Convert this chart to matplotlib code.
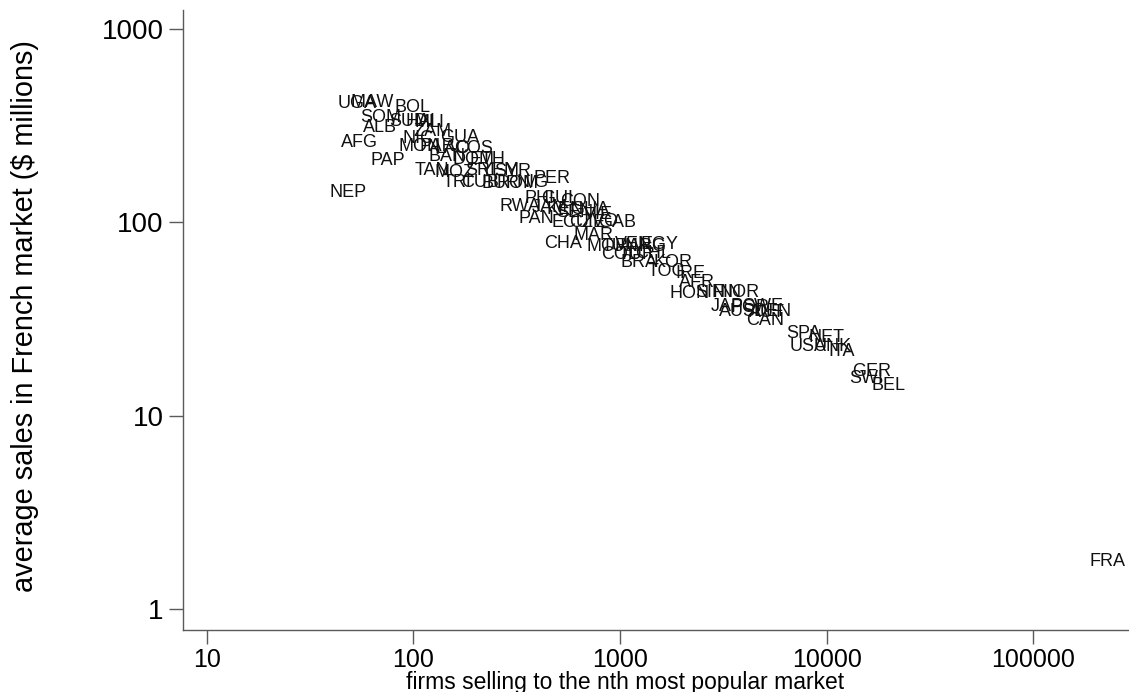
import numpy as np
import matplotlib
matplotlib.use("Agg")
import matplotlib.pyplot as plt

# =====================================================
# データ (国コード, 販売企業数, フランス市場での平均販売額)
# =====================================================
countries = [
    "UGA", "MAW", "BOL", "SOM", "SUD", "HAI", "MLI", "ALB", "ZAM", "NIC",
    "GUA", "AFG", "MON", "PAR", "LAO", "COS", "PAP", "BAN", "DOM", "ETH",
    "TAN", "MOZ", "SRI", "YEM", "SYR", "TRI", "CUB", "BUR", "ROM", "NIG",
    "PER", "NEP", "RWA", "PHI", "GUI", "CON", "PAN", "CHA", "JAM", "KEN",
    "SEN", "GHA", "ECU", "CZE", "IVO", "GAB", "VIE", "MAR", "MOR", "TUN",
    "VEN", "ARG", "EGY", "COL", "TUR", "CHL", "BRA", "KOR", "TOG", "IRE",
    "AFR", "HON", "SIN", "FIN", "NOR", "JAP", "AUS", "POR", "SWE", "AUT",
    "DEN", "CAN", "SPA", "NET", "USA", "UNK", "ITA", "GER", "SWI", "BEL",
    "FRA",
]
firms = [
    53.4, 63.1, 98.6, 69.8, 94.3, 107.8, 120.4, 69.0, 123.1, 105.4,
    168.2, 55.2, 107.8, 130.2, 155.6, 196.7, 75.4, 145.6, 194.5, 227.3,
    123.1, 159.1, 210.2, 262.7, 303.7, 162.7, 210.2, 262.7, 317.5, 379.6,
    469.0, 48.3, 328.3, 405.8, 495.7, 640.6, 392.5, 530.1, 458.6, 542.0,
    605.8, 716.0, 573.0, 692.5, 827.6, 967.2, 782.7, 740.3, 865.2, 1000,
    1156, 1351, 1561, 1000, 1208, 1444, 1236, 1804, 1688, 2181,
    2358, 2181, 2725, 3294, 3806, 3294, 3681, 4256, 4918, 5143,
    5498, 5029, 7766, 9922, 8128, 10727, 11858, 16583, 15505, 19815,
    227200,
]
avg_sales = [
    409.8, 414.7, 390.7, 346.8, 330.6, 330.6, 326.7, 307.8, 293.5, 270.1,
    273.3, 257.5, 245.5, 245.5, 239.8, 239.8, 207.8, 217.9, 210.3, 210.3,
    184.5, 180.1, 184.5, 184.5, 182.3, 159.9, 159.9, 158.0, 158.0, 159.9,
    167.7, 142.0, 120.1, 132.2, 132.2, 127.5, 104.1, 77.3, 118.7, 115.9,
    111.9, 115.9, 99.3, 99.3, 100.5, 99.3, 109.2, 85.1, 74.6, 74.6,
    76.4, 74.6, 76.4, 67.8, 67.8, 69.4, 61.7, 61.7, 55.4, 54.1,
    48.6, 43.1, 43.6, 43.6, 43.6, 36.9, 34.4, 36.1, 36.5, 34.0,
    34.4, 30.9, 26.5, 25.5, 22.7, 22.7, 21.6, 17.0, 15.5, 14.4,
    1.77,
]

# =====================================================
# グラフ作成
# =====================================================
plt.rcParams["font.family"] = ["Liberation Sans", "DejaVu Sans"]
AX_COLOR = "#5a5a5a"

fig = plt.figure(figsize=(11.29, 6.92), dpi=100)
ax = fig.add_axes([0.1621, 0.0896, 0.8379, 0.8959])

ax.set_xscale("log")
ax.set_yscale("log")
ax.set_xlim(7.69, 290000)
ax.set_ylim(0.779, 1254)

# 点の代わりに国コードを表示
for name, x, y in zip(countries, firms, avg_sales):
    ax.text(x, y, name, ha="center", va="center", fontsize=13, color="#111111")

# 軸の体裁
for side in ["top", "right"]:
    ax.spines[side].set_visible(False)
for side in ["left", "bottom"]:
    ax.spines[side].set_color(AX_COLOR)
    ax.spines[side].set_linewidth(1.0)

ax.set_xticks([10, 100, 1000, 10000, 100000])
ax.set_xticklabels(["10", "100", "1000", "10000", "100000"])
ax.set_yticks([1, 10, 100, 1000])
ax.set_yticklabels(["1", "10", "100", "1000"])
ax.minorticks_off()
ax.tick_params(axis="both", which="major", length=10, width=1.0,
               color=AX_COLOR, pad=4)
ax.tick_params(axis="y", labelsize=20)
ax.tick_params(axis="x", labelsize=18, pad=3)

ax.set_xlabel("firms selling to the nth most popular market", fontsize=16.5)
ax.xaxis.set_label_coords(0.467, -0.066)
ax.set_ylabel("average sales in French market ($ millions)", fontsize=20.8)
ax.yaxis.set_label_coords(-0.152, 0.506)

fig.savefig("out.png", dpi=100)
